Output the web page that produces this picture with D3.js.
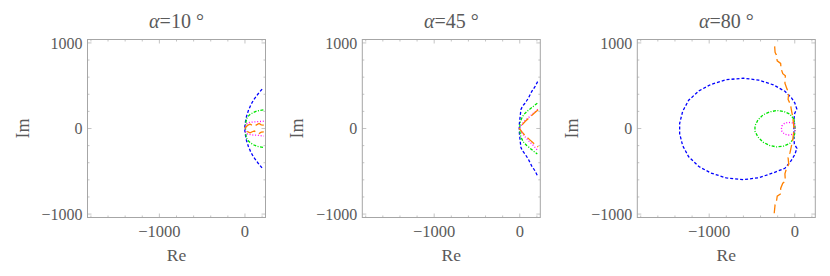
<!DOCTYPE html>
<html>
<head>
<meta charset="utf-8">
<script src="https://cdn.jsdelivr.net/npm/d3@7"></script>
<style>
  body { margin: 0; background: #fff; }
  text { font-family: "Liberation Serif", "Times New Roman", serif; fill: #5a5a5a; }
</style>
</head>
<body>
<div id="chart"></div>
<script>
// angles shown in panel titles
const alphas = [10, 45, 80];

// tick values
const xTicks = [-1000, 0];
const yTicks = [-1000, 0, 1000];

// loci, [Re, Im]
const blue10 = [[200,460],[150,400],[105,340],[70,280],[40,210],[18,140],[4,70],[-4,0],[4,-70],[18,-140],[40,-210],[70,-280],[105,-340],[150,-400],[200,-462]];
const green10 = [[215,218],[175,212],[139,205],[100,188],[61,166],[35,140],[22,119],[12,80],[8,40],[6,0],[8,-40],[12,-80],[22,-119],[35,-140],[61,-166],[100,-190],[139,-207],[175,-214],[215,-220]];
const magenta10 = [[220,85],[150,80],[80,75],[30,65],[10,40],[5,0],[10,-40],[30,-65],[80,-75],[150,-80],[220,-88]];
const orange10 = [[220,40],[190,42],[165,58],[140,45],[110,30],[85,38],[60,50],[35,40],[15,20],[-5,0],[15,-20],[35,-40],[60,-50],[85,-38],[110,-30],[140,-45],[165,-58],[190,-42],[220,-40]];

const blue45 = [[209,548],[178,489],[139,431],[100,353],[61,295],[34,263],[14,224],[2,119],[-4,60],[-6,0],[-4,-60],[2,-119],[14,-224],[34,-263],[61,-298],[100,-358],[139,-436],[178,-495],[209,-556]];
const green45 = [[205,295],[160,260],[120,228],[81,197],[45,160],[22,119],[8,80],[2,41],[0,0],[2,-41],[8,-80],[22,-119],[45,-160],[81,-198],[120,-230],[160,-264],[205,-298]];
const magenta45 = [[210,225],[160,180],[110,135],[60,90],[25,50],[0,0],[25,-55],[60,-95],[110,-150],[160,-200],[210,-258]];
const orange45 = [[215,218],[165,175],[115,130],[65,85],[30,45],[-5,0],[30,-45],[65,-85],[115,-130],[165,-175],[215,-215]];

const blue80 = [[25,225],[0,300],[-40,360],[-115,435],[-250,510],[-420,565],[-600,588],[-800,570],[-980,515],[-1120,440],[-1240,330],[-1310,200],[-1345,60],[-1345,-60],[-1310,-200],[-1240,-330],[-1120,-445],[-980,-520],[-800,-578],[-600,-598],[-420,-575],[-250,-518],[-115,-465],[-40,-372],[0,-305],[25,-232],[-5,-180],[-10,-100],[-10,0],[-10,100],[0,180],[25,225]];
const green80 = [[-10,110],[-60,170],[-130,200],[-210,210],[-290,195],[-370,160],[-430,100],[-465,30],[-465,-30],[-430,-100],[-370,-160],[-290,-200],[-210,-215],[-130,-205],[-60,-175],[-10,-115],[0,-50],[5,0],[0,50],[-10,110]];
const magenta80 = [[0,40],[-30,65],[-75,72],[-120,60],[-150,30],[-155,0],[-150,-35],[-120,-65],[-75,-76],[-30,-68],[0,-45],[5,0],[0,40]];
const orange80 = [[-235,960],[-230,890],[-215,860],[-205,790],[-165,760],[-160,700],[-140,640],[-110,615],[-115,530],[-90,460],[-70,420],[-78,340],[-50,280],[-38,210],[-25,140],[-15,60],[-10,0],[-15,-60],[-25,-140],[-40,-210],[-55,-280],[-78,-340],[-70,-420],[-95,-460],[-115,-530],[-110,-615],[-140,-640],[-165,-700],[-160,-760],[-205,-790],[-215,-860],[-230,-890],[-240,-990]];

const panelData = [
  [blue10, green10, magenta10, orange10],
  [blue45, green45, magenta45, orange45],
  [blue80, green80, magenta80, orange80]
];

const seriesColors = ["#0000ff", "#00e400", "#ff00ff", "#ff8000"];
const seriesDash = ["3,2", "3,1.5,1,1.5", "1,1.8", "9,4"];

const width = 830, height = 276;
const frameLefts = [87.5, 362.3, 637.3];
const frameTop = 39.5, size = 178;

const svg = d3.select("#chart").append("svg")
  .attr("width", width)
  .attr("height", height);

const x = d3.scaleLinear().domain([-1840, 240]).range([0, size]);
const y = d3.scaleLinear().domain([-1040, 1040]).range([size, 0]);

const line = d3.line()
  .x(d => x(d[0]))
  .y(d => y(d[1]));

panelData.forEach(function (series, i) {
  const g = svg.append("g")
    .attr("transform", `translate(${frameLefts[i]},${frameTop})`);

  g.append("clipPath").attr("id", "clip" + i)
    .append("rect").attr("width", size).attr("height", size);

  // minor + major ticks on the frame, pointing inward
  const xMinor = d3.range(-1800, 201, 200);
  const yMinor = d3.range(-1000, 1001, 200);
  const tickColor = "#aaa";

  xMinor.forEach(v => {
    const major = xTicks.includes(v);
    const len = major ? 4 : 2;
    g.append("line").attr("x1", x(v)).attr("x2", x(v))
      .attr("y1", size).attr("y2", size - len)
      .attr("stroke", tickColor).attr("stroke-width", 0.7);
    g.append("line").attr("x1", x(v)).attr("x2", x(v))
      .attr("y1", 0).attr("y2", len)
      .attr("stroke", tickColor).attr("stroke-width", 0.7);
  });
  yMinor.forEach(v => {
    const major = yTicks.includes(v);
    const len = major ? 4 : 2;
    g.append("line").attr("y1", y(v)).attr("y2", y(v))
      .attr("x1", 0).attr("x2", len)
      .attr("stroke", tickColor).attr("stroke-width", 0.7);
    g.append("line").attr("y1", y(v)).attr("y2", y(v))
      .attr("x1", size).attr("x2", size - len)
      .attr("stroke", tickColor).attr("stroke-width", 0.7);
  });

  // curves
  g.append("g").attr("clip-path", `url(#clip${i})`)
    .selectAll("path")
    .data(series)
    .enter().append("path")
    .attr("d", line)
    .attr("fill", "none")
    .attr("stroke", (d, k) => seriesColors[k])
    .attr("stroke-width", 1.3)
    .attr("stroke-dasharray", (d, k) => seriesDash[k]);

  // frame
  g.append("rect")
    .attr("width", size).attr("height", size)
    .attr("fill", "none")
    .attr("stroke", "#a6a6a6")
    .attr("stroke-width", 1);

  // tick labels
  g.selectAll(".xlab")
    .data(xTicks)
    .enter().append("text")
    .attr("class", "xlab")
    .attr("x", d => x(d))
    .attr("y", size + 19)
    .attr("text-anchor", "middle")
    .attr("font-size", 16.5)
    .text(d => d < 0 ? "\u2212" + Math.abs(d) : d);

  g.selectAll(".ylab")
    .data(yTicks)
    .enter().append("text")
    .attr("class", "ylab")
    .attr("x", -5)
    .attr("y", d => y(d))
    .attr("dy", "0.35em")
    .attr("text-anchor", "end")
    .attr("font-size", 16)
    .text(d => d < 0 ? "\u2212" + Math.abs(d) : d);

  // axis labels
  g.append("text")
    .attr("x", size / 2)
    .attr("y", size + 43)
    .attr("text-anchor", "middle")
    .attr("font-size", 17.5)
    .text("Re");

  g.append("text")
    .attr("transform", `translate(-59,${size / 2}) rotate(-90)`)
    .attr("text-anchor", "middle")
    .attr("font-size", 18)
    .text("Im");

  // title
  const title = g.append("text")
    .attr("x", size / 2)
    .attr("y", -11.5)
    .attr("text-anchor", "middle")
    .attr("font-size", 20);
  title.append("tspan").attr("font-style", "italic").text("\u03b1");
  title.append("tspan").text("=" + alphas[i] + " \u00b0");
});
</script>
</body>
</html>
